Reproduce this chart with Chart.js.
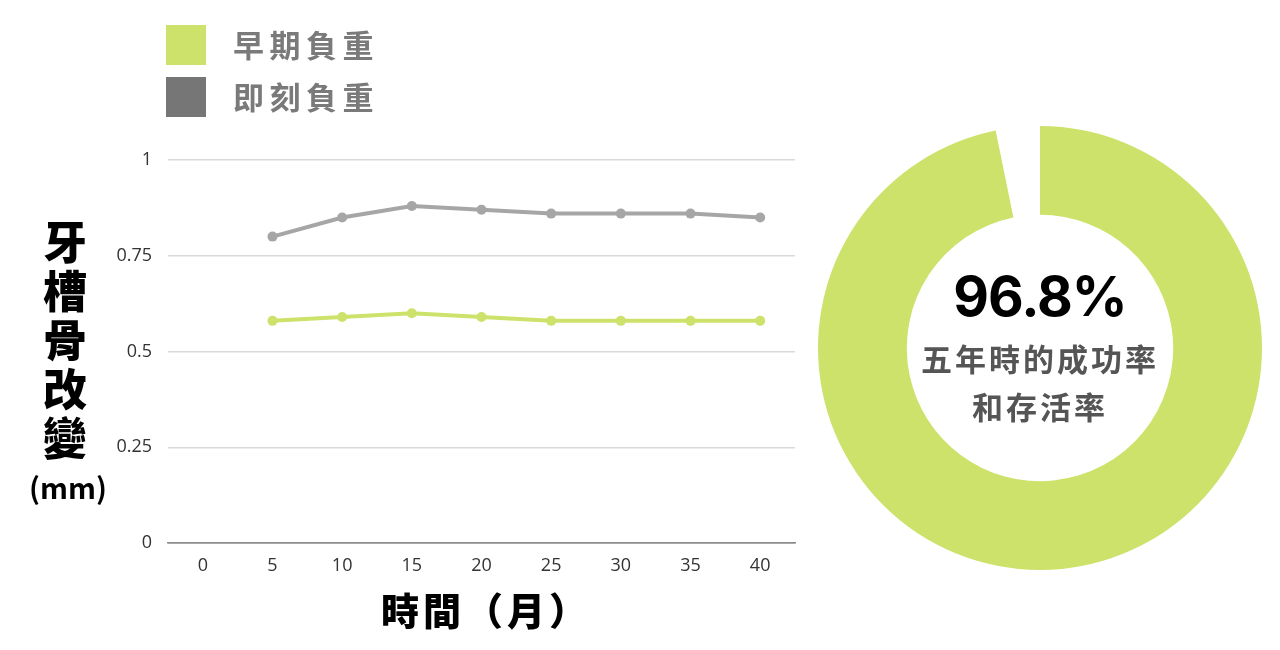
<!DOCTYPE html>
<html><head><meta charset="utf-8">
<script src="https://cdn.jsdelivr.net/npm/chart.js@4"></script>
<style>
html,body{margin:0;padding:0;background:#fff;width:1280px;height:650px;overflow:hidden;}
.abs{position:absolute;}
#lineBox{left:0;top:0;width:820px;height:650px;}
#donutBox{left:810px;top:118px;width:460px;height:460px;}
.leg{font-family:"Noto Sans CJK TC";font-weight:700;color:#7a7a7a;font-size:31px;letter-spacing:5.5px;line-height:40px;}
.sw{width:40px;height:40px;}
#ytitle{left:20px;top:216px;width:90px;text-align:center;font-family:"Noto Sans CJK TC";font-weight:900;font-size:44px;line-height:49px;color:#000;}
#ymm{left:18px;top:466px;width:100px;text-align:center;font-family:"Noto Sans CJK TC";font-weight:700;font-size:29px;color:#000;line-height:40px;}
#xtitle{left:286px;top:586px;width:400px;text-align:center;font-family:"Noto Sans CJK TC";font-weight:900;font-size:38px;line-height:46px;color:#000;letter-spacing:4px;}
#pct{left:890px;top:260px;width:300px;text-align:center;font-family:Inter;font-weight:700;font-size:55px;line-height:72px;color:#000;letter-spacing:-1px;}
#sub{left:870px;top:334px;width:340px;text-align:center;font-family:"Noto Sans CJK TC";font-weight:700;font-size:31px;line-height:48px;color:#555;letter-spacing:3px;}
</style></head>
<body>
<div id="lineBox" class="abs"><canvas id="lineChart"></canvas></div>
<div id="donutBox" class="abs"><canvas id="donutChart"></canvas></div>

<div class="abs sw" style="left:166px;top:25px;background:#cde26b"></div>
<div class="abs leg" style="left:233px;top:24px">早期負重</div>
<div class="abs sw" style="left:166px;top:77px;background:#767676"></div>
<div class="abs leg" style="left:233px;top:76px">即刻負重</div>

<div id="ytitle" class="abs">牙<br>槽<br>骨<br>改<br>變</div>
<div id="ymm" class="abs">(mm)</div>
<div id="xtitle" class="abs">時間（月）</div>

<div id="pct" class="abs">96.8%</div>
<div id="sub" class="abs">五年時的成功率<br>和存活率</div>

<script>
const months = ['0','5','10','15','20','25','30','35','40'];
const earlyLoad = [null,0.58,0.59,0.60,0.59,0.58,0.58,0.58,0.58];
const immediateLoad = [null,0.80,0.85,0.88,0.87,0.86,0.86,0.86,0.85];
const yTicks = [0,0.25,0.5,0.75,1];
const successRate = [96.8, 3.2];

const green = '#cce26b';
const grayLine = '#a6a6a6';

new Chart(document.getElementById('lineChart'), {
  type:'line',
  data:{labels:months,datasets:[
    {label:'即刻負重',data:immediateLoad,borderColor:grayLine,backgroundColor:grayLine,borderWidth:4,pointRadius:5,pointBorderWidth:0,tension:0},
    {label:'早期負重',data:earlyLoad,borderColor:green,backgroundColor:green,borderWidth:4,pointRadius:5,pointBorderWidth:0,tension:0}
  ]},
  options:{
    responsive:true,maintainAspectRatio:false,animation:false,
    layout:{padding:{top:160,right:25,left:0,bottom:0}},
    plugins:{legend:{display:false},tooltip:{enabled:false}},
    scales:{
      x:{offset:true,
        grid:{display:false,drawTicks:false},
        border:{display:true,color:'#8c8c8c',width:1.5},
        ticks:{padding:12,color:'#333',font:{family:'"Open Sans"',size:18}},
        afterFit:s=>{s.height=107;}
      },
      y:{min:0,max:1,
        afterBuildTicks:s=>{s.ticks=yTicks.map(v=>({value:v}));},
        grid:{color:c=>c.tick&&c.tick.value===0?'#8c8c8c':'#d9d9d9',lineWidth:1.5,drawTicks:false},
        border:{display:false},
        ticks:{padding:16,color:'#333',font:{family:'"Open Sans"',size:18},callback:v=>String(v)},
        afterFit:s=>{s.width=168;}
      }
    }
  }
});

new Chart(document.getElementById('donutChart'), {
  type:'doughnut',
  data:{labels:['成功率','其他'],datasets:[{data:successRate,backgroundColor:[green,'rgba(0,0,0,0)'],borderWidth:0}]},
  options:{
    responsive:true,maintainAspectRatio:false,animation:false,
    cutout:'60%',
    layout:{padding:8},
    plugins:{legend:{display:false},tooltip:{enabled:false}}
  }
});
</script>
</body></html>
